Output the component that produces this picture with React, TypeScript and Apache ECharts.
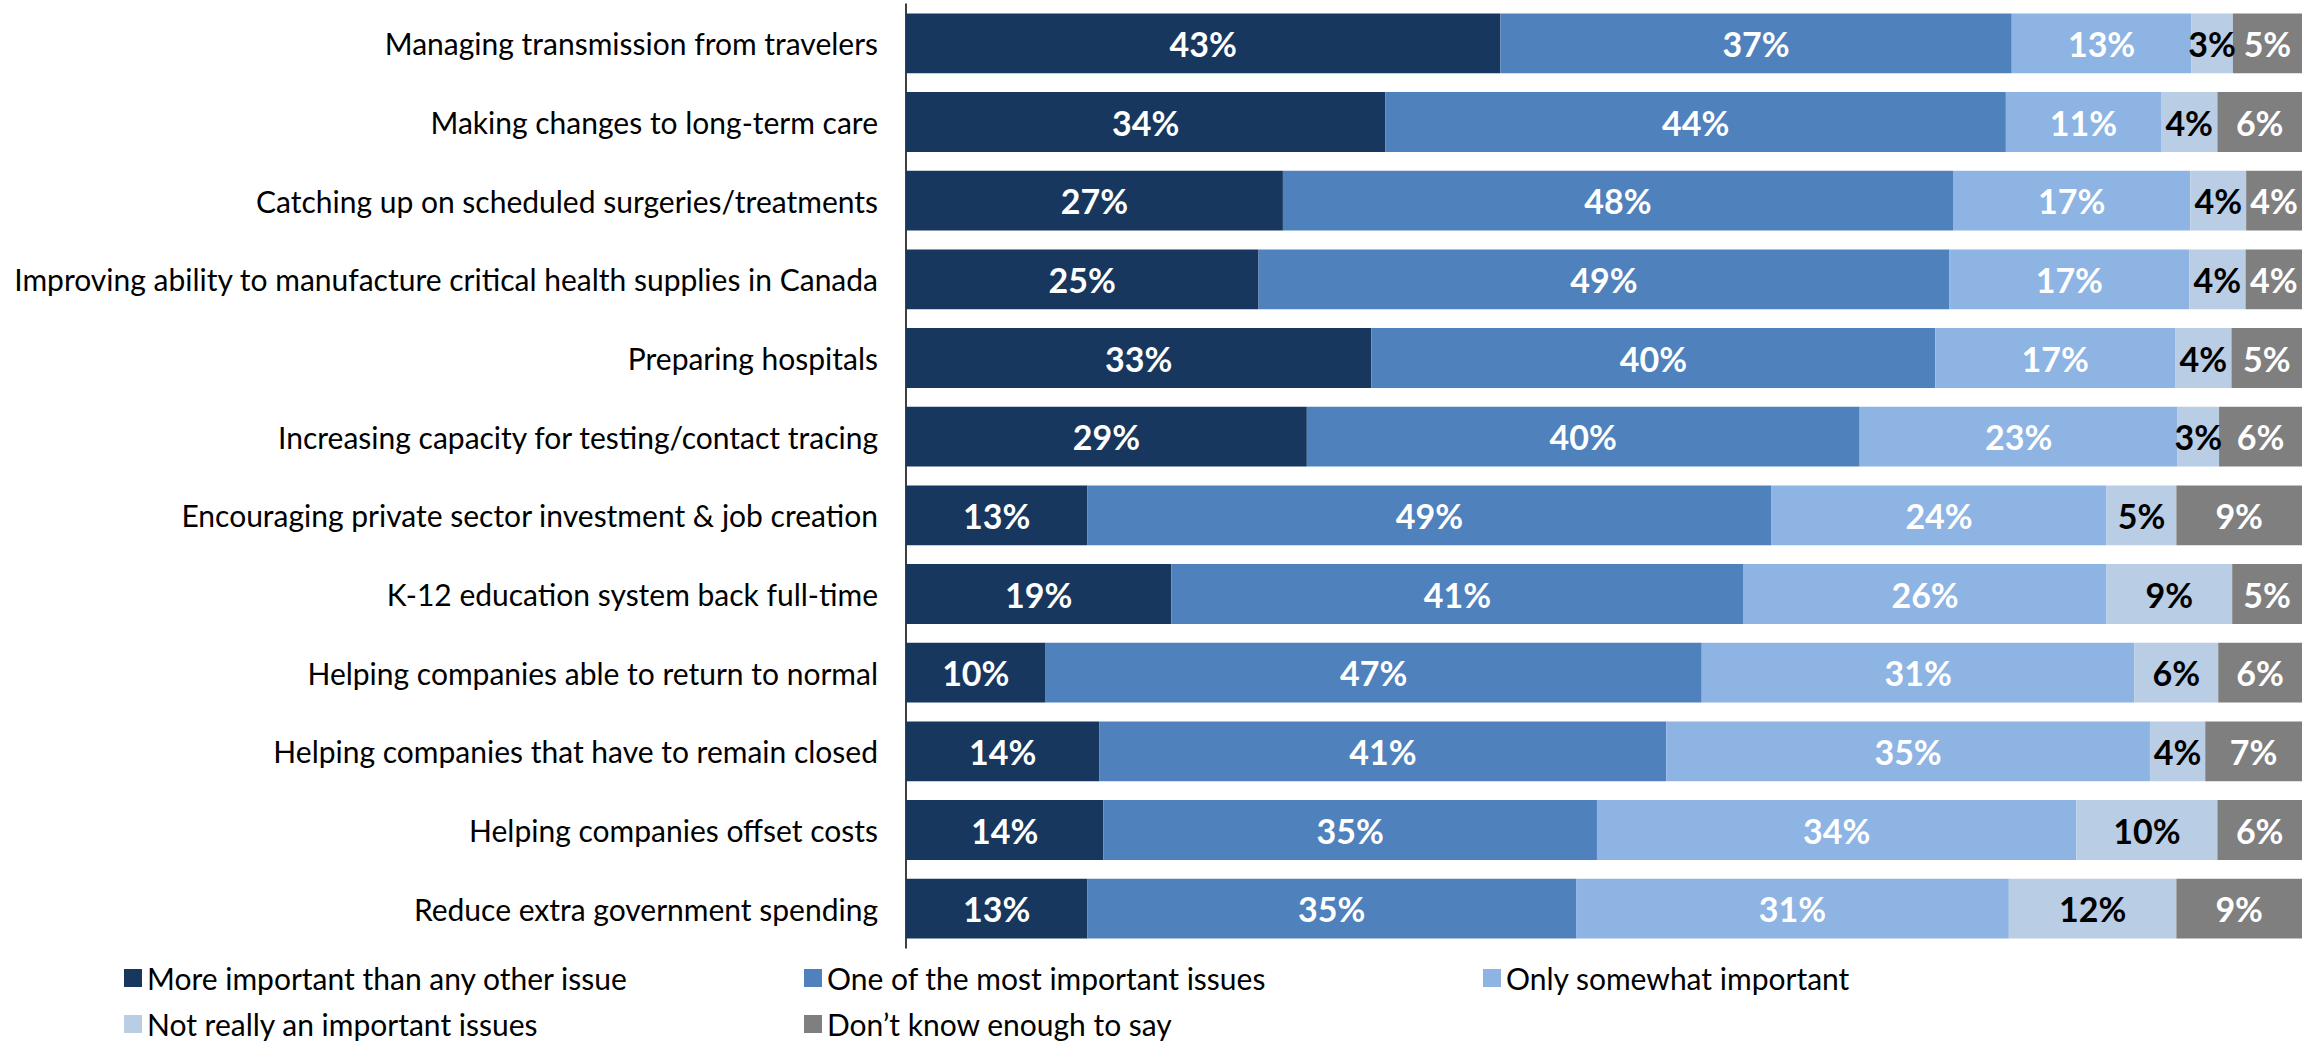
import React, { useEffect, useRef } from "react";
import * as echarts from "echarts";

const categories = [
  "Managing transmission from travelers",
  "Making changes to long-term care",
  "Catching up on scheduled surgeries/treatments",
  "Improving ability to manufacture critical health supplies in Canada",
  "Preparing hospitals",
  "Increasing capacity for testing/contact tracing",
  "Encouraging private sector investment & job creation",
  "K-12 education system back full-time",
  "Helping companies able to return to normal",
  "Helping companies that have to remain closed",
  "Helping companies offset costs",
  "Reduce extra government spending",
];

const seriesNames = [
  "More important than any other issue",
  "One of the most important issues",
  "Only somewhat important",
  "Not really an important issues",
  "Don\u2019t know enough to say",
];

const moreImportant = [43, 34, 27, 25, 33, 29, 13, 19, 10, 14, 14, 13];
const oneOfMost = [37, 44, 48, 49, 40, 40, 49, 41, 47, 41, 35, 35];
const somewhat = [13, 11, 17, 17, 17, 23, 24, 26, 31, 35, 34, 31];
const notReally = [3, 4, 4, 4, 4, 3, 5, 9, 6, 4, 10, 12];
const dontKnow = [5, 6, 4, 4, 5, 6, 9, 5, 6, 7, 6, 9];

const colors = ["#17375E", "#4F81BD", "#8EB4E3", "#B9CDE5", "#7F7F7F"];
const labelColors = ["#FFFFFF", "#FFFFFF", "#FFFFFF", "#000000", "#FFFFFF"];

const FONT = "Lato";

export default function App() {
  const ref = useRef<HTMLDivElement>(null);

  useEffect(() => {
    if (!ref.current) return;
    const chart = echarts.init(ref.current, null, { renderer: "svg" });
    const allValues = [moreImportant, oneOfMost, somewhat, notReally, dontKnow];
    const totals = categories.map((_, i) =>
      allValues.reduce((s, arr) => s + arr[i], 0)
    );

    const series = allValues.map((arr, k) => ({
      name: seriesNames[k],
      type: "bar",
      stack: "total",
      barCategoryGap: "24%",
      itemStyle: { color: colors[k] },
      label: {
        show: true,
        position: "inside",
        color: labelColors[k],
        fontFamily: FONT,
        fontWeight: "bold",
        fontSize: 34,
        formatter: (p: any) => arr[p.dataIndex] + "%",
      },
      data: arr.map((v, i) => (v / totals[i]) * 100),
    }));

    const legendBase = {
      orient: "horizontal",
      padding: 0,
      itemWidth: 18,
      itemHeight: 18,
      icon: "rect",
      textStyle: {
        fontFamily: FONT,
        fontSize: 30,
        color: "#000",
        lineHeight: 30,
      },
      selectedMode: false,
    };

    // legend layout: [column left, row top] for each series
    const legendPos = [
      [124, 963],
      [804, 963],
      [1483, 963],
      [124, 1009],
      [804, 1009],
    ];

    chart.setOption({
      animation: false,
      grid: { left: 906, right: 13, top: 4, bottom: 96, containLabel: false },
      xAxis: { type: "value", min: 0, max: 100, show: false },
      yAxis: {
        type: "category",
        data: categories,
        inverse: true,
        axisLine: { show: true, lineStyle: { color: "#000", width: 1.5 } },
        axisTick: { show: false },
        splitLine: { show: false },
        axisLabel: {
          fontFamily: FONT,
          fontSize: 30,
          color: "#000",
          margin: 28,
        },
      },
      legend: seriesNames.map((name, k) => ({
        ...legendBase,
        left: legendPos[k][0],
        top: legendPos[k][1],
        data: [name],
      })),
      series,
    });

    return () => chart.dispose();
  }, []);

  return (
    <div
      ref={ref}
      style={{
        position: "fixed",
        left: 0,
        top: 0,
        width: 2315,
        height: 1044,
        background: "#fff",
      }}
    />
  );
}
